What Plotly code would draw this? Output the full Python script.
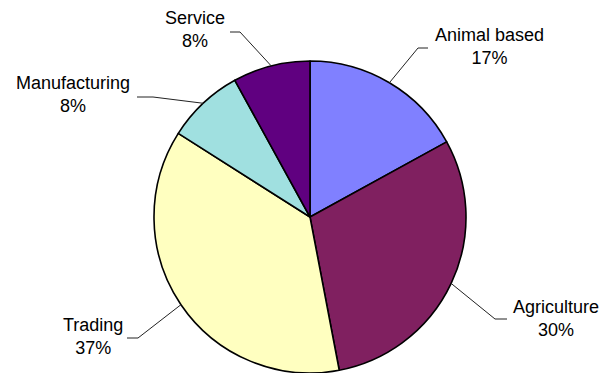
import math
import plotly.graph_objects as go

# Sector shares (%)
sectors = ["Animal based", "Agriculture", "Trading", "Manufacturing", "Service"]
shares = [17, 30, 37, 8, 8]
colors = ["#8080FF", "#802060", "#FFFFC0", "#A0E0E0", "#600080"]

W, H = 604, 373

# Pie placement in pixels (centre and radius)
cx, cy, r = 310, 217, 156

# Label block centres and leader-line elbows (pixels), one per sector
label_pos = [(489, 47), (556, 318), (93, 336), (73, 95), (195, 29)]
elbows = [(418, 48), (495, 319), (138, 338), (153, 97), (240, 32)]
tails = [(428, 48), (507, 319), (127, 338), (137, 97), (230, 32)]


def px(x):
    return x / W


def py(y):
    return 1 - y / H


fig = go.Figure(
    go.Pie(
        labels=sectors,
        values=shares,
        sort=False,
        direction="clockwise",
        rotation=0,
        marker=dict(colors=colors, line=dict(color="black", width=1.6)),
        textinfo="none",
        hoverinfo="label+percent",
        domain=dict(x=[px(cx - r), px(cx + r)], y=[py(cy + r), py(cy - r)]),
    )
)

# Leader lines start at the rim, at each slice's mid angle
total = sum(shares)
cum = 0
shapes = []
annotations = []
for i, (name, v) in enumerate(zip(sectors, shares)):
    mid = (cum + v / 2) / total * 2 * math.pi
    cum += v
    ex = cx + r * math.sin(mid)
    ey = cy - r * math.cos(mid)
    (bx, by), (tx, ty) = elbows[i], tails[i]
    shapes.append(
        dict(
            type="path",
            xref="paper",
            yref="paper",
            path=f"M {px(ex)} {py(ey)} L {px(bx)} {py(by)} L {px(tx)} {py(ty)}",
            line=dict(color="#222222", width=1),
        )
    )
    lx, ly = label_pos[i]
    annotations.append(
        dict(
            text=f"{name}<br>{v}%",
            x=px(lx),
            y=py(ly),
            xref="paper",
            yref="paper",
            xanchor="center",
            yanchor="middle",
            align="center",
            showarrow=False,
            font=dict(family="Liberation Sans, Arial, sans-serif", size=18, color="black"),
        )
    )

fig.update_layout(
    width=W,
    height=H,
    margin=dict(l=0, r=0, t=0, b=0),
    paper_bgcolor="white",
    plot_bgcolor="white",
    showlegend=False,
    shapes=shapes,
    annotations=annotations,
)

fig.write_html("out.html")
